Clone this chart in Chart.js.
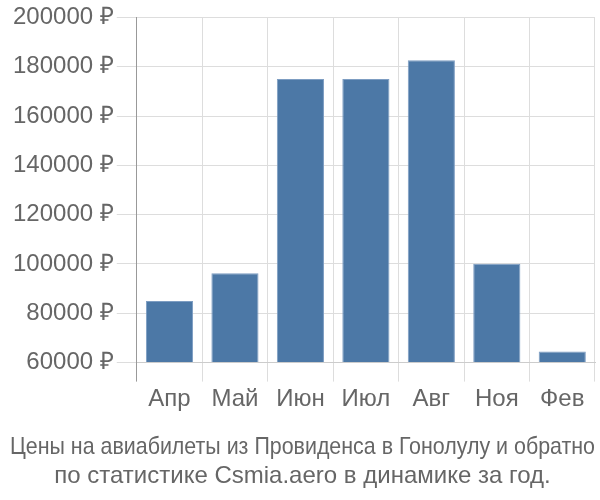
<!DOCTYPE html>
<html>
<head>
<meta charset="utf-8">
<script src="https://cdn.jsdelivr.net/npm/chart.js@4/dist/chart.umd.min.js"></script>
<style>
html,body{margin:0;padding:0;background:#fff;}
#wrap{width:600px;height:500px;}
</style>
</head>
<body>
<div id="wrap"><canvas id="c" width="600" height="500"></canvas></div>
<script>
const categories = ["Апр", "Май", "Июн", "Июл", "Авг", "Ноя", "Фев"];
const prices = [85000, 96200, 175000, 175000, 182600, 100100, 64500];
const yTicks = [60000, 80000, 100000, 120000, 140000, 160000, 180000, 200000];
const titleLines = ["Цены на авиабилеты из Провиденса в Гонолулу и обратно", "по статистике Csmia.aero в динамике за год."];

const FONT = '"Liberation Sans", Arial, sans-serif';
new Chart(document.getElementById('c'), {
  type: 'bar',
  data: {
    labels: categories,
    datasets: [{
      data: prices,
      backgroundColor: '#4c78a6',
      borderColor: '#7d9dc2',
      borderWidth: 1,
      base: yTicks[0]
    }]
  },
  options: {
    responsive: false,
    animation: false,
    devicePixelRatio: 1,
    layout: {padding: {top: 14, right: 5, left: 10, bottom: 0}},
    plugins: {
      legend: {display: false},
      tooltip: {enabled: false},
      title: {
        display: true,
        position: 'bottom',
        text: titleLines,
        color: '#666',
        font: {family: FONT, size: 24, weight: 'normal', lineHeight: 1.2},
        padding: {top: 17, bottom: 9}
      }
    },
    scales: {
      x: {
        grid: {
          color: (ctx) => ctx.index === 0 ? '#999' : '#ddd',
          lineWidth: 1,
          tickLength: 19,
          offset: true
        },
        border: {color: '#ccc'},
        ticks: {color: '#666', font: {family: FONT, size: 24}, padding: 3}
      },
      y: {
        min: yTicks[0],
        max: yTicks[yTicks.length - 1],
        afterBuildTicks: (scale) => { scale.ticks = yTicks.map(v => ({value: v})); },
        grid: {color: '#ddd', tickLength: 20},
        border: {color: '#999'},
        ticks: {
          color: '#666',
          font: {family: FONT, size: 24},
          padding: 3,
          callback: (v) => v + ' ₽'
        }
      }
    }
  }
});
</script>
</body>
</html>
